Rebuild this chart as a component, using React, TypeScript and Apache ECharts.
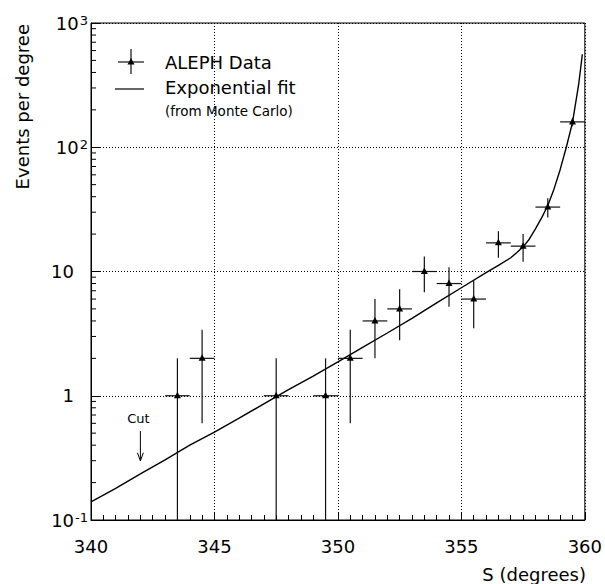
import React, { useEffect, useRef } from "react";
import * as echarts from "echarts";

// ---- data ----
const binCenters = [343.5, 344.5, 347.5, 349.5, 350.5, 351.5, 352.5, 353.5, 354.5, 355.5, 356.5, 357.5, 358.5, 359.5];
const counts = [1, 2, 1, 1, 2, 4, 5, 10, 8, 6, 17, 16, 33, 160];
const errUp = [1, 1.4, 1, 1, 1.4, 2, 2.2, 3.2, 2.8, 2.5, 4.1, 4, 5.8, 12.6];
const errDown = [1, 1.4, 1, 1, 1.4, 2, 2.2, 3.2, 2.8, 2.5, 4.1, 4, 5.8, 12.6];
const binHalfWidth = [0.5, 0.5, 0.5, 0.5, 0.5, 0.5, 0.5, 0.5, 0.5, 0.5, 0.5, 0.5, 0.5, 0.5];

const fitX = [340, 341, 342, 343, 344, 345, 346, 347, 348, 349, 350, 351, 352, 353, 354, 355, 356, 356.5, 357, 357.25, 357.5, 357.75, 358, 358.25, 358.5, 358.75, 359, 359.25, 359.5, 359.75, 359.9];
const fitY = [0.14, 0.18, 0.235, 0.305, 0.4, 0.51, 0.66, 0.86, 1.12, 1.44, 1.87, 2.45, 3.2, 4.2, 5.6, 7.4, 9.8, 11.2, 12.9, 14.2, 15.8, 18.2, 22, 27, 34, 46, 66, 100, 158, 320, 560];

const yMinorMultipliers = [2, 3, 4, 5, 6, 7, 8, 9];
const yDecades = [0.1, 1, 10, 100];

const cutX = 342;
const cutArrowFrom = 0.52;
const cutArrowTo = 0.3;
const cutLabel = "Cut";

const xTitle = "S (degrees)";
const yTitle = "Events per degree";
const legendData = "ALEPH Data";
const legendFit = "Exponential fit";
const legendFitNote = "(from Monte Carlo)";

const FONT = "DejaVu Sans";

export default function App() {
  const ref = useRef<HTMLDivElement>(null);

  useEffect(() => {
    if (!ref.current) return;
    const chart = echarts.init(ref.current, null, { renderer: "svg" });

    const pointData = binCenters.map((x, i) => [x, counts[i], errDown[i], errUp[i], binHalfWidth[i]]);
    const fitData = fitX.map((x, i) => [x, fitY[i]]);
    const minorData: number[][] = [];
    yDecades.forEach((d) => yMinorMultipliers.forEach((m) => minorData.push([340, d * m])));

    const tri = (cx: number, cy: number) => [
      [cx - 3.5, cy + 2.5],
      [cx + 3.5, cy + 2.5],
      [cx, cy - 4],
    ];

    const option: any = {
      animation: false,
      backgroundColor: "#fff",
      grid: { left: 91, right: 20, top: 23, bottom: 64, show: true, borderColor: "#000", borderWidth: 1, backgroundColor: "transparent" },
      xAxis: {
        type: "value",
        min: 340,
        max: 360,
        interval: 5,
        axisLine: { show: true, onZero: false, lineStyle: { color: "#000", width: 1 } },
        axisTick: { show: true, inside: true, length: 8, lineStyle: { color: "#000" } },
        minorTick: { show: true, splitNumber: 10, length: 5, lineStyle: { color: "#000" } },
        axisLabel: { fontSize: 18, fontFamily: FONT, color: "#000", margin: 17 },
        splitLine: { show: true, lineStyle: { type: [1, 2], color: "#000", width: 1 } },
      },
      yAxis: {
        type: "log",
        logBase: 10,
        min: 0.1,
        max: 1000,
        axisLine: { show: true, onZero: false, lineStyle: { color: "#000", width: 1 } },
        axisTick: { show: true, inside: true, length: 9, lineStyle: { color: "#000" } },
        axisLabel: {
          margin: 3,
          color: "#000",
          fontFamily: FONT,
          formatter: (v: number) => {
            const e = Math.round(Math.log10(v));
            if (e === 0) return "{b|1}{g|}";
            if (e === 1) return "{b|10}{g|}";
            return "{b|10}{s|" + (e < 0 ? "-" + -e : "" + e) + "}";
          },
          rich: {
            b: { fontSize: 18, lineHeight: 18, fontFamily: FONT, color: "#000", verticalAlign: "bottom" },
            s: { fontSize: 13, lineHeight: 13, fontFamily: FONT, color: "#000", verticalAlign: "top", padding: [0, 0, 10, 1] },
            g: { width: 14, fontSize: 18, lineHeight: 18 },
          },
        },
        splitLine: { show: true, lineStyle: { type: [1, 2], color: "#000", width: 1 } },
      },
      series: [
        {
          type: "line",
          data: fitData,
          showSymbol: false,
          symbol: "none",
          lineStyle: { color: "#000", width: 1.4 },
          z: 3,
        },
        {
          type: "custom",
          data: pointData,
          z: 4,
          renderItem: (params: any, api: any) => {
            const x = api.value(0);
            const y = api.value(1);
            const lo = api.value(2);
            const hi = api.value(3);
            const hw = api.value(4);
            const c = api.coord([x, y]);
            const top = api.coord([x, y + hi]);
            const lowVal = y - lo > 0.1 ? y - lo : 0.1;
            const bot = api.coord([x, lowVal]);
            const left = api.coord([x - hw, y]);
            const right = api.coord([x + hw, y]);
            const st = { stroke: "#111", lineWidth: 1.2 };
            return {
              type: "group",
              children: [
                { type: "line", shape: { x1: top[0], y1: top[1], x2: bot[0], y2: bot[1] }, style: st },
                { type: "line", shape: { x1: left[0], y1: left[1], x2: right[0], y2: right[1] }, style: st },
                { type: "polygon", shape: { points: tri(c[0], c[1]) }, style: { fill: "#000" } },
              ],
            };
          },
        },
        {
          type: "custom",
          data: minorData,
          z: 2,
          renderItem: (params: any, api: any) => {
            const p = api.coord([api.value(0), api.value(1)]);
            return {
              type: "line",
              shape: { x1: p[0], y1: p[1], x2: p[0] + 5, y2: p[1] },
              style: { stroke: "#000", lineWidth: 1 },
            };
          },
        },
        {
          type: "custom",
          data: [[cutX, cutArrowFrom, cutArrowTo]],
          z: 4,
          clip: false,
          renderItem: (params: any, api: any) => {
            const a = api.coord([api.value(0), api.value(1)]);
            const b = api.coord([api.value(0), api.value(2)]);
            const st = { stroke: "#000", lineWidth: 1 };
            return {
              type: "group",
              children: [
                { type: "line", shape: { x1: a[0], y1: a[1], x2: b[0], y2: b[1] }, style: st },
                {
                  type: "polyline",
                  shape: { points: [[b[0] - 3, b[1] - 8], [b[0], b[1]], [b[0] + 3, b[1] - 8]] },
                  style: { stroke: "#000", lineWidth: 1, fill: null },
                },
                {
                  type: "text",
                  x: a[0] - 2,
                  y: a[1] - 13,
                  style: { text: cutLabel, fontSize: 13, fontFamily: FONT, fill: "#000", align: "center", verticalAlign: "middle" },
                },
              ],
            };
          },
        },
      ],
      graphic: [
        {
          type: "text",
          x: 22,
          y: 24,
          rotation: Math.PI / 2,
          style: { text: yTitle, fontSize: 18, fontFamily: FONT, fill: "#000", align: "right", verticalAlign: "middle" },
        },
        {
          type: "text",
          x: 586,
          y: 574,
          style: { text: xTitle, fontSize: 18, fontFamily: FONT, fill: "#000", align: "right", verticalAlign: "middle" },
        },
        { type: "line", shape: { x1: 118, y1: 62, x2: 144, y2: 62 }, style: { stroke: "#111", lineWidth: 1.2 } },
        { type: "line", shape: { x1: 131, y1: 49, x2: 131, y2: 74 }, style: { stroke: "#111", lineWidth: 1.2 } },
        { type: "polygon", shape: { points: tri(131, 62) }, style: { fill: "#000" } },
        { type: "line", shape: { x1: 115, y1: 89, x2: 144, y2: 89 }, style: { stroke: "#000", lineWidth: 1.2 } },
        {
          type: "text",
          x: 165,
          y: 62,
          style: { text: legendData, fontSize: 18, fontFamily: FONT, fill: "#000", align: "left", verticalAlign: "middle" },
        },
        {
          type: "text",
          x: 165,
          y: 87,
          style: { text: legendFit, fontSize: 18, fontFamily: FONT, fill: "#000", align: "left", verticalAlign: "middle" },
        },
        {
          type: "text",
          x: 165,
          y: 111,
          style: { text: legendFitNote, fontSize: 13.5, fontFamily: FONT, fill: "#000", align: "left", verticalAlign: "middle" },
        },
      ],
    };

    chart.setOption(option);
    return () => chart.dispose();
  }, []);

  return <div ref={ref} style={{ width: 605, height: 584, position: "absolute", left: 0, top: 0 }} />;
}
